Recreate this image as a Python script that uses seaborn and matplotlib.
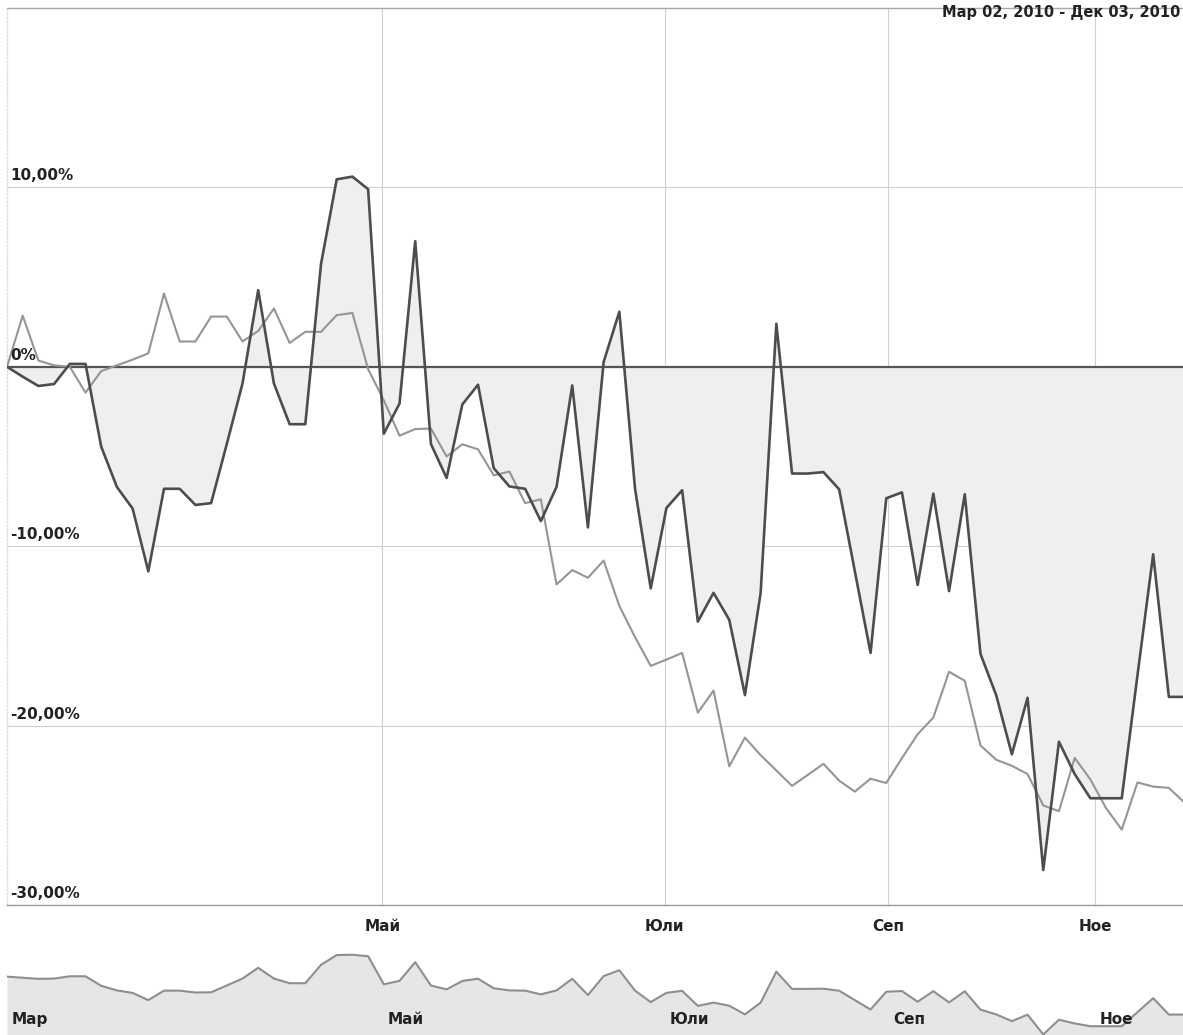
import numpy as np
import pandas as pd
import matplotlib
matplotlib.use("Agg")
import matplotlib.pyplot as plt
import matplotlib.transforms as mtransforms
import seaborn as sns

# stock (dark) and comparison (light) % change, one value per chart point
stock_pct = [0, -0.55, -1.07, -0.96, 0.16, 0.16, -4.45, -6.7, -7.9, -11.4,
             -6.8, -6.8, -7.7, -7.6, -4.3, -0.93, 4.27, -0.93, -3.2, -3.2,
             5.73, 10.45, 10.6, 9.9, -3.73, -2.05, 7.0, -4.3, -6.2, -2.1,
             -1.0, -5.65, -6.67, -6.8, -8.6, -6.7, -1.04, -8.95, 0.27, 3.07,
             -6.8, -12.35, -7.87, -6.88, -14.2, -12.6, -14.1, -18.3, -12.6, 2.4,
             -5.95, -5.95, -5.87, -6.83, -11.4, -15.95, -7.33, -7.0, -12.16, -7.07,
             -12.5, -7.1, -16.0, -18.3, -21.6, -18.45, -28.05, -20.9, -22.7, -24.05,
             -24.05, -24.05, -17.2, -10.45, -18.4, -18.4]
index_pct = [0, 2.85, 0.35, 0.08, 0, -1.44, -0.24, 0.08, 0.4, 0.75,
             4.08, 1.41, 1.41, 2.8, 2.8, 1.41, 2.0, 3.25, 1.33, 1.95,
             1.95, 2.88, 3.0, -0.13, -1.87, -3.84, -3.47, -3.44, -5.0, -4.32,
             -4.6, -6.05, -5.84, -7.6, -7.39, -12.13, -11.33, -11.76, -10.8, -13.33,
             -15.07, -16.67, -16.32, -15.95, -19.28, -18.05, -22.27, -20.67, -21.65, -22.5,
             -23.36, -22.75, -22.13, -23.07, -23.68, -22.96, -23.2, -21.81, -20.48, -19.55,
             -17.0, -17.5, -21.1, -21.9, -22.24, -22.7, -24.45, -24.77, -21.8, -23.0,
             -24.6, -25.8, -23.17, -23.4, -23.47, -24.3]

month_pos = [23.9, 41.9, 56.1, 69.3]
month_labels = ["Май", "Юли", "Сеп", "Ное"]
nav_pos = [0, 23.9, 41.9, 56.1, 69.3]
nav_labels = ["Мар", "Май", "Юли", "Сеп", "Ное"]
y_ticks = [10, 0, -10, -20, -30]
y_labels = ["10,00%", "0%", "-10,00%", "-20,00%", "-30,00%"]
date_range = "Мар 02, 2010 - Дек 03, 2010"

df = pd.DataFrame({"idx": np.arange(len(stock_pct)),
                   "stock": stock_pct, "index": index_pct})

sns.set_theme(style="white")
plt.rcParams["font.family"] = ["DejaVu Sans"]

W, H = 1183, 1035
fig = plt.figure(figsize=(W / 100, H / 100), dpi=100)
left = 7 / W
ax = fig.add_axes([left, (H - 905) / H, 1 - left, (905 - 8) / H])
nav = fig.add_axes([left, 0, 1 - left, 105 / H], sharex=ax)

# main chart
ax.fill_between(df["idx"], df["stock"], 0, color="#efefef", lw=0, zorder=1)
ax.axhline(0, color="#555555", lw=1.6, zorder=2)
sns.lineplot(data=df, x="idx", y="index", ax=ax, color="#959595", lw=1.5, zorder=3)
sns.lineplot(data=df, x="idx", y="stock", ax=ax, color="#4d4d4d", lw=1.9, zorder=4)

ax.set_xlim(0, 74.9)
ax.set_ylim(-30, 20)
ax.set_xticks(month_pos)
ax.set_xticklabels(month_labels, fontsize=11, fontweight="bold", color="#222222")
ax.set_yticks(y_ticks)
ax.set_yticklabels([])
ax.tick_params(axis="x", length=0, pad=10)
ax.tick_params(axis="y", length=0)
ax.grid(True, color="#d0d0d0", lw=0.8)
ax.set_xlabel("")
ax.set_ylabel("")
ax.spines["right"].set_visible(False)
ax.spines["top"].set_color("#a8a8a8")
ax.spines["bottom"].set_color("#9a9a9a")
ax.spines["left"].set_color("#dddddd")
ax.spines["left"].set_linestyle(":")
for s in ax.spines.values():
    s.set_linewidth(1.0)

ylab_trans = mtransforms.offset_copy(ax.get_yaxis_transform(), fig=fig, x=3, y=4, units="dots")
for v, lab in zip(y_ticks, y_labels):
    ax.text(0, v, lab, transform=ylab_trans, ha="left", va="bottom",
            fontsize=11, fontweight="bold", color="#222222", zorder=5)

# navigator
nav_bottom = -28.3
nav.fill_between(df["idx"], df["stock"], nav_bottom, color="#e6e6e6", lw=0)
sns.lineplot(data=df, x="idx", y="stock", ax=nav, color="#8e8e8e", lw=1.5)
nav.set_ylim(nav_bottom, 22.6)
nav.set_axis_off()
nlab_trans = mtransforms.offset_copy(nav.get_xaxis_transform(), fig=fig, x=5, y=8, units="dots")
for p, lab in zip(nav_pos, nav_labels):
    nav.text(p, 0, lab, transform=nlab_trans, ha="left", va="bottom",
             fontsize=11, fontweight="bold", color="#222222")

# date range in the top-right corner, kept fully inside the picture
fig.text(1 - 3 / W, 1 - 17 / H, date_range, ha="right", va="baseline",
         fontsize=10.5, fontweight="bold", color="#222222")

plt.savefig("out.png", dpi=100)
plt.close()
